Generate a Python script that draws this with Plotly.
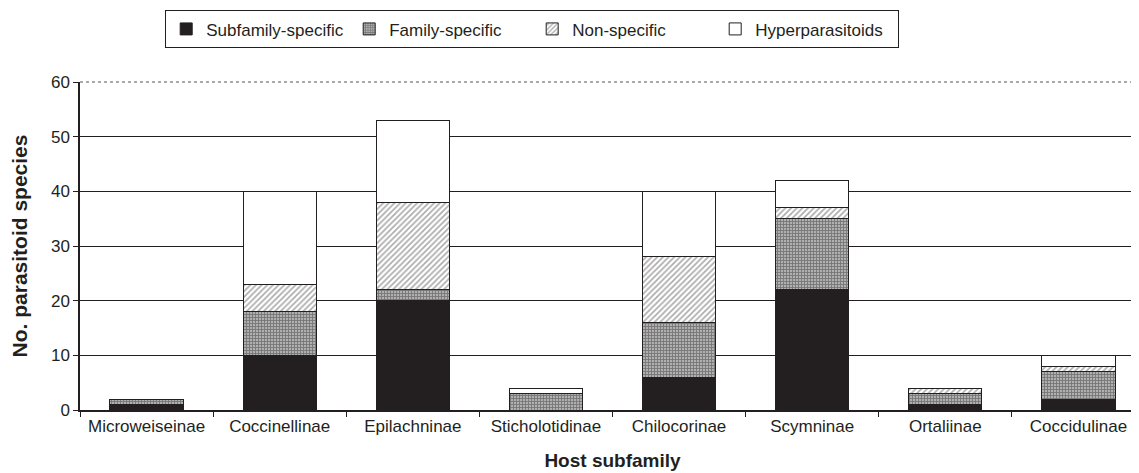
import plotly.graph_objects as go

categories = ["Microweiseinae", "Coccinellinae", "Epilachninae", "Sticholotidinae",
              "Chilocorinae", "Scymninae", "Ortaliinae", "Coccidulinae"]
subfamily_specific = [1, 10, 20, 0, 6, 22, 1, 2]
family_specific = [1, 8, 2, 3, 10, 13, 2, 5]
non_specific = [0, 5, 16, 0, 12, 2, 1, 1]
hyperparasitoids = [0, 17, 15, 1, 12, 5, 0, 2]

INK = "#231f20"
series = [
    ("Subfamily-specific", subfamily_specific, dict(color=INK)),
    ("Family-specific", family_specific,
     dict(color="#9a9a9a", pattern=dict(shape="+", fgcolor="#3a3a3a", bgcolor="#b0b0b0", size=3, solidity=0.5))),
    ("Non-specific", non_specific,
     dict(color="white", pattern=dict(shape="/", fgcolor="#555555", bgcolor="white", size=4, solidity=0.4))),
    ("Hyperparasitoids", hyperparasitoids, dict(color="white")),
]

fig = go.Figure()
for name, vals, mk in series:
    mk = dict(mk)
    mk["line"] = dict(color=INK, width=1)
    fig.add_trace(go.Bar(name=name, x=categories, y=vals, marker=mk, width=0.55))

FONT = "Liberation Sans, Arial, sans-serif"
fig.update_layout(
    barmode="stack",
    width=1139, height=473,
    margin=dict(l=72, r=2, t=74, b=71),
    plot_bgcolor="white", paper_bgcolor="white",
    font=dict(family=FONT, size=17, color=INK),
    showlegend=True,
    legend=dict(orientation="h", x=0.08, xanchor="left", y=0.995, yref="container", yanchor="top",
                bordercolor=INK, borderwidth=1, font=dict(size=17), traceorder="normal",
                itemwidth=30, entrywidth=138, entrywidthmode="pixels"),
    xaxis=dict(showline=True, linecolor=INK, linewidth=1.5, ticks="outside", tickson="boundaries",
               ticklen=5, tickcolor=INK, range=[-0.5, 7.5], automargin=False,
               title=dict(text="<b>Host subfamily</b>", font=dict(size=19), standoff=19),
               tickfont=dict(size=17)),
    yaxis=dict(range=[0, 60], dtick=10, showline=True, linecolor=INK, linewidth=1.5,
               ticks="outside", ticklen=5, tickcolor=INK, showgrid=True, automargin=False,
               gridcolor=INK, gridwidth=1, tickfont=dict(size=17),
               title=dict(text="<b>No. parasitoid species</b>", font=dict(size=21), standoff=22)),
)
# dotted top and right frame
fig.add_shape(type="line", xref="paper", yref="paper", x0=0, x1=1, y0=1, y1=1,
              line=dict(color="#555555", width=1, dash="dot"))
fig.add_shape(type="line", xref="paper", yref="paper", x0=1, x1=1, y0=0, y1=1,
              line=dict(color="#555555", width=1, dash="dot"))

fig.write_html("out.html")
